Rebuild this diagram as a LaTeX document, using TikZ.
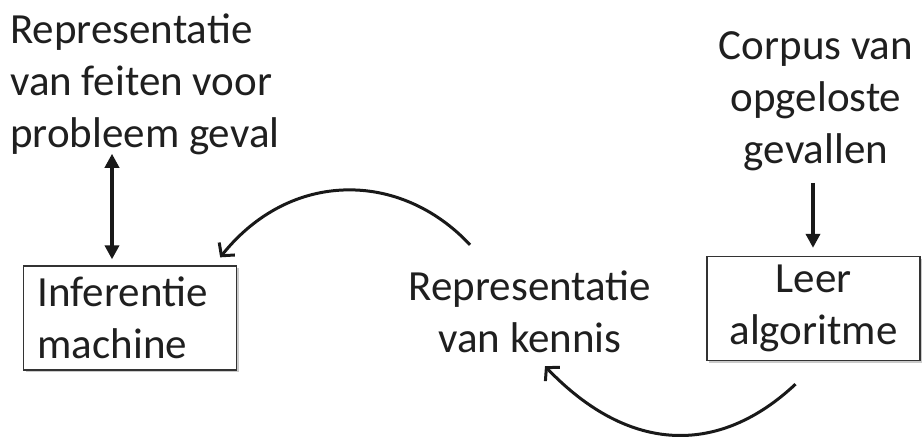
\documentclass[tikz,border=0pt]{standalone}
\usepackage{fontspec}
\setmainfont{Carlito}
\usetikzlibrary{arrows.meta,shadows}

\begin{document}
\begin{tikzpicture}[x=1pt,y=-1pt,
		every node/.style={font=\fontsize{43}{52}\selectfont, text=black!88},
		label text/.style={inner sep=0pt},
		box/.style={draw=black!80, line width=1.3pt, fill=white, minimum width=213pt, minimum height=104pt, inner sep=0pt,
			drop shadow={shadow xshift=2pt, shadow yshift=-2pt, fill=black!35, opacity=0.6}},
		vert arrow/.style={line width=4pt, draw=black!90, -{Triangle[length=14pt,width=14pt]}},
		curve arrow/.style={line width=3pt, draw=black!90, -{Straight Barb[length=9pt,width=20pt]}}]
	\useasboundingbox (0,0) rectangle (922,439);

	% texts
	\node[label text, align=left, anchor=west] (feiten) at (10,84) {Representatie\\van feiten voor\\probleem geval};
	\node[label text, align=center] (corpus) at (816,101) {Corpus van\\opgeloste\\gevallen};
	\node[label text, align=center] (kennis) at (530,312) {Representatie\\van kennis};

	% boxes
	\node[box, text width=185pt, align=left] (inferentie) at (130,318) {Inferentie\\machine};
	\node[box, align=center] (leer) at (813.5,308.5) {Leer\\algoritme};

	% connectors
	\draw[vert arrow, {Triangle[length=14pt,width=14pt]}-{Triangle[length=14pt,width=14pt]}] ([xshift=102pt,yshift=1pt]feiten.south west) -- ([xshift=-18pt,yshift=6pt]inferentie.north);
	\draw[vert arrow] ([xshift=-3pt,yshift=-12pt]corpus.south) -- ([xshift=-0.5pt,yshift=8pt]leer.north);
	\draw[curve arrow] ([xshift=-60pt,yshift=26pt]kennis.north) .. controls (400,170) and (290,170) .. ([xshift=-17pt,yshift=8pt]inferentie.north east);
	\draw[curve arrow] ([xshift=-18pt,yshift=-23pt]leer.south) .. controls (720,455) and (630,455) .. ([xshift=15pt,yshift=-13pt]kennis.south);
\end{tikzpicture}
\end{document}
